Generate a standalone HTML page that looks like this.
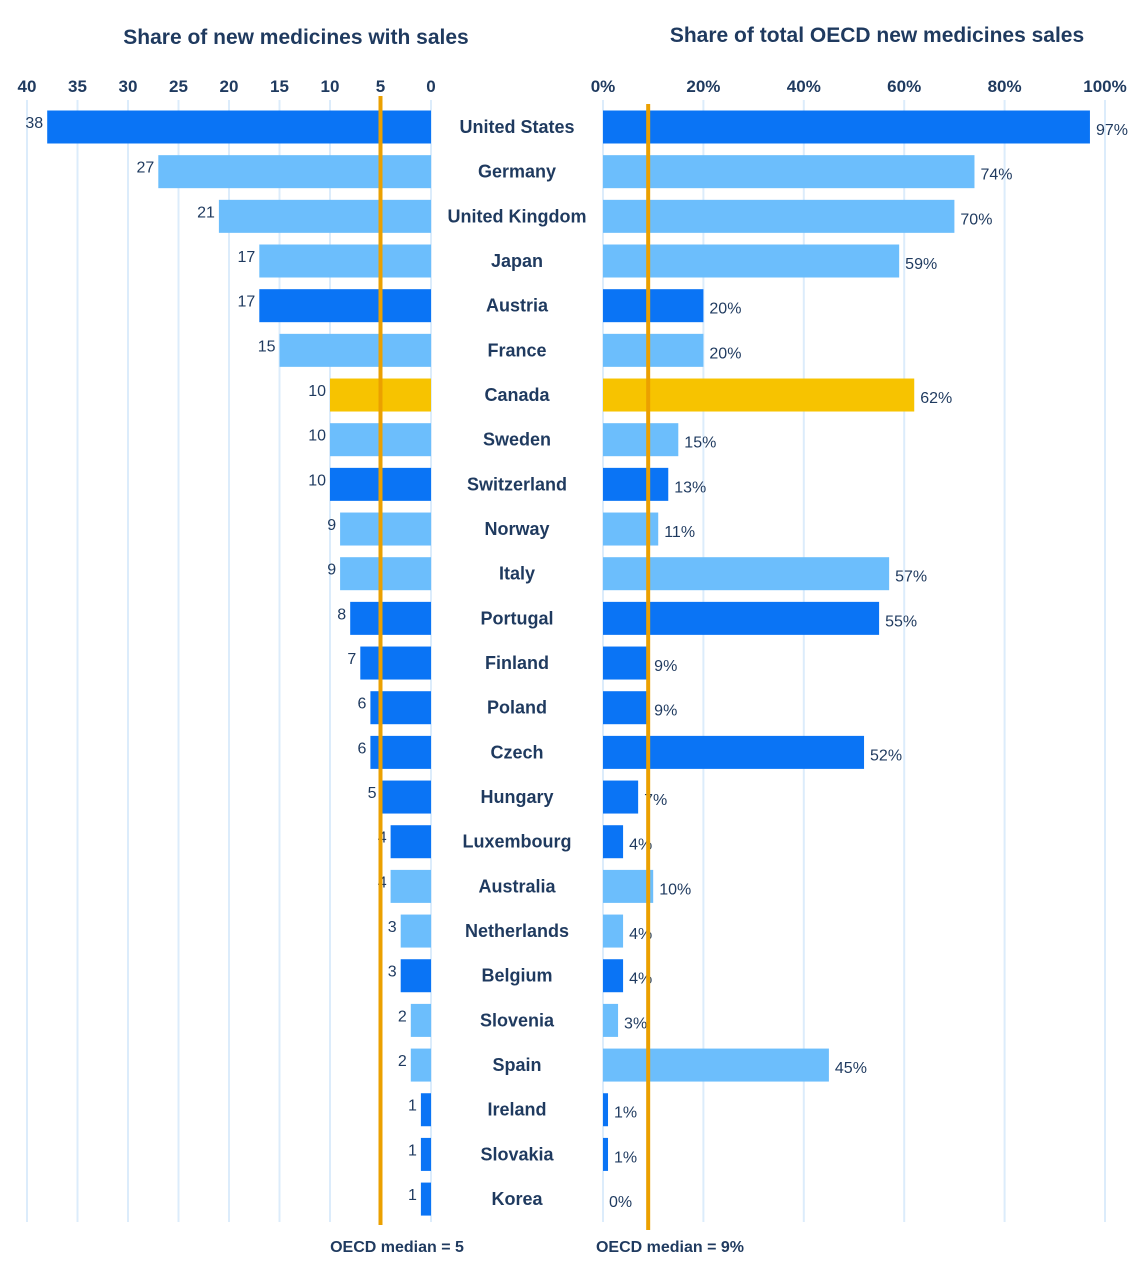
<!DOCTYPE html>
<html><head><meta charset="utf-8"><style>
body{margin:0;background:#fff;width:1140px;height:1269px;overflow:hidden}
svg{display:block;font-family:"Liberation Sans",sans-serif}
</style></head><body>
<svg id="c" width="1140" height="1269">
<text x="296" y="44" text-anchor="middle" font-size="21" font-weight="bold" fill="#1f3a5f">Share of new medicines with sales</text>
<text x="877" y="42" text-anchor="middle" font-size="21" font-weight="bold" fill="#1f3a5f">Share of total OECD new medicines sales</text>
</svg>
<script>
const countries=["United States","Germany","United Kingdom","Japan","Austria","France","Canada","Sweden","Switzerland","Norway","Italy","Portugal","Finland","Poland","Czech","Hungary","Luxembourg","Australia","Netherlands","Belgium","Slovenia","Spain","Ireland","Slovakia","Korea"];
const counts=[38,27,21,17,17,15,10,10,10,9,9,8,7,6,6,5,4,4,3,3,2,2,1,1,1];
const shares=[97,74,70,59,20,20,62,15,13,11,57,55,9,9,52,7,4,10,4,4,3,45,1,1,0];
const colorGroup=["d","l","l","l","d","l","c","l","d","l","l","d","d","d","d","d","d","l","l","d","l","l","d","d","d"];
const leftTicks=[40,35,30,25,20,15,10,5,0];
const rightTicks=[0,20,40,60,80,100];
const medianCount=5, medianShare=9;
const NS="http://www.w3.org/2000/svg",svg=document.getElementById('c');
const xL=v=>431-v*10.1, xR=v=>603+v*5.02, yC=i=>127+i*44.67;
const col={d:"#0a74f5",l:"#6cbefc",c:"#f7c300"};
function mk(t,a,txt){const e=document.createElementNS(NS,t);for(const k in a)e.setAttribute(k,a[k]);if(txt!=null)e.textContent=txt;svg.appendChild(e);return e;}
leftTicks.forEach(t=>{
 let g=mk('line',{x1:xL(t),x2:xL(t),y1:100,y2:1222,stroke:"#dcecfb","stroke-width":2});
 
 let l=mk('text',{x:xL(t),y:92,"text-anchor":"middle","font-size":17,"font-weight":"bold",fill:"#1f3a5f"},t);
 
});
rightTicks.forEach(t=>{
 let g=mk('line',{x1:xR(t),x2:xR(t),y1:100,y2:1222,stroke:"#dcecfb","stroke-width":2});
 
 let l=mk('text',{x:xR(t),y:92,"text-anchor":"middle","font-size":17,"font-weight":"bold",fill:"#1f3a5f"},t+"%");
 
});
countries.forEach((c,i)=>{
 const y=yC(i),f=col[colorGroup[i]];
 let b=mk('rect',{x:xL(counts[i]),y:y-16.5,width:xL(0)-xL(counts[i]),height:33,fill:f});
 
 let v=mk('text',{x:xL(counts[i])-4,y:y+1,"text-anchor":"end","font-size":16,fill:"#1f3a5f"},counts[i]);
 
 let n=mk('text',{x:517,y:y+6,"text-anchor":"middle","font-size":18,"font-weight":"bold",fill:"#1f3a5f"},c);
 
 let r=mk('rect',{x:xR(0),y:y-16.5,width:xR(shares[i])-xR(0),height:33,fill:f});
 
 let s=mk('text',{x:xR(shares[i])+6,y:y+8,"font-size":16,fill:"#1f3a5f"},shares[i]+"%");
 
});
let m1=mk('line',{x1:xL(medianCount),x2:xL(medianCount),y1:96,y2:1225,stroke:"#eba000","stroke-width":4});

let m2=mk('line',{x1:xR(medianShare),x2:xR(medianShare),y1:104,y2:1230,stroke:"#eba000","stroke-width":4});

let t1=mk('text',{x:397,y:1252,"text-anchor":"middle","font-size":16,"font-weight":"bold",fill:"#1f3a5f"},"OECD median = "+medianCount);

let t2=mk('text',{x:670,y:1252,"text-anchor":"middle","font-size":16,"font-weight":"bold",fill:"#1f3a5f"},"OECD median = "+medianShare+"%");

</script>
</body></html>
